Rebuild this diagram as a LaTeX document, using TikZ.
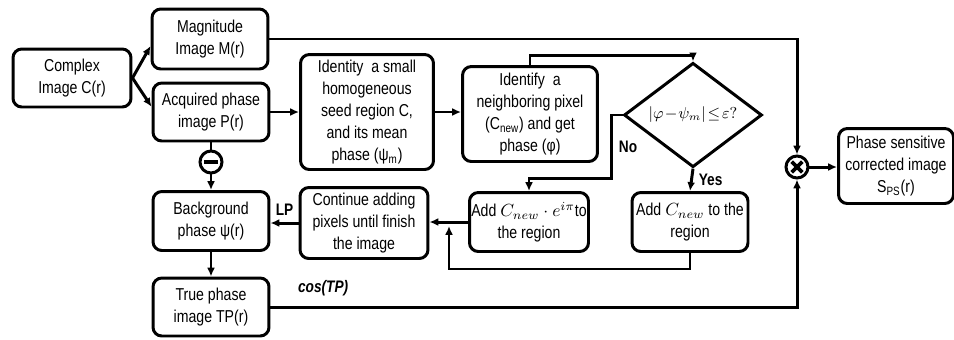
\documentclass[tikz,border=0pt]{standalone}
\usepackage{fontspec}
\setmainfont[FakeStretch=0.82]{Liberation Sans}
\usetikzlibrary{arrows.meta,shapes.geometric}

\tikzset{
  blk/.style={draw, line width=1.7pt, rounded corners=5pt, align=center, inner sep=1pt, font=\fontsize{9.8}{12.5}\selectfont},
  op/.style={draw, circle, line width=1.7pt, minimum size=0.44cm, inner sep=0pt},
  arr/.style={-{Latex[length=5pt,width=4.5pt]}, line width=1.7pt},
  lnk/.style={line width=1.7pt},
  lbl/.style={font=\fontsize{9.5}{11}\selectfont\bfseries}
}

\begin{document}
\begin{tikzpicture}[x=0.02cm, y=-0.02cm]
\useasboundingbox (0,0) rectangle (954,339);
% Left column
\node[blk, minimum width=2.36cm, minimum height=1.16cm] (cplx) at (72,78) {Complex\\Image C(r)};
\node[blk, minimum width=2.32cm, minimum height=1.2cm] (mag) at (210,39) {Magnitude\\Image M(r)};
\node[blk, minimum width=2.32cm, minimum height=1.16cm] (acq) at (211,112) {Acquired phase\\image P(r)};
\node[op] (minus) at (211,162) {};
\node[blk, minimum width=2.32cm, minimum height=1.18cm] (bg) at (211,221) {Background\\phase ψ(r)};
\node[blk, minimum width=2.32cm, minimum height=1.16cm] (tp) at (211,307) {True phase\\image TP(r)};
% Region growing
\node[blk, minimum width=2.66cm, minimum height=2.3cm] (seed) at (367,112) {Identity\ \ a small\\homogeneous\\seed region C,\\and its mean\\phase (ψ\textsubscript{m})};
\node[blk, minimum width=2.7cm, minimum height=1.9cm] (nbr) at (530,114) {Identify\ \ a\\neighboring pixel\\(C\textsubscript{new}) and get\\phase (φ)};
\node[draw, diamond, line width=1.7pt, inner sep=0pt, minimum width=2.76cm, minimum height=1.8cm, font=\fontsize{9}{11}\selectfont] (dec) at (693,115) {$|\varphi\!-\!\psi_m|\!\le\!\varepsilon?$};
\node[blk, minimum width=2.56cm, minimum height=1.42cm] (cont) at (364,223) {Continue adding\\pixels until finish\\the image};
\node[blk, minimum width=2.36cm, minimum height=1.18cm] (adde) at (529,222) {Add $C_{new}\cdot e^{i\pi}$to\\the region};
\node[blk, minimum width=2.32cm, minimum height=1.18cm] (addc) at (690,222) {Add $C_{new}$ to the\\region};
% Output
\node[op] (mul) at (797,167) {};
\node[blk, minimum width=2.3cm, minimum height=1.5cm] (ps) at (896,166) {Phase sensitive\\corrected image\\S\textsubscript{PS}(r)};
\coordinate (join) at (449,226);
% Operator marks
\draw[line width=2.5pt] ([xshift=-4pt]minus.center) -- ([xshift=4pt]minus.center);
\draw[line width=2.2pt] ([shift={(-3pt,-3pt)}]mul.center) -- ([shift={(3pt,3pt)}]mul.center);
\draw[line width=2.2pt] ([shift={(-3pt,3pt)}]mul.center) -- ([shift={(3pt,-3pt)}]mul.center);
% Arrows
\draw[arr] (cplx.east) -- ([yshift=-4pt]mag.west);
\draw[arr] (cplx.east) -- ([yshift=3pt]acq.west);
\draw[arr] (mag.east) -| (mul.north);
\draw[arr] (acq.east) -- (acq.east -| seed.west);
\draw[arr] (seed.east) -- (seed.east -| nbr.west);
\draw[arr] (nbr.north) -- ++(0,-10) -| (dec.north);
\draw[arr] (dec.west) -- ++(-11,0) -- node[lbl, right] {No} ++(0,63) -| (adde.north);
\draw[arr] (dec.south) -- node[lbl, right] {Yes} (addc.north);
\draw[arr] (addc.south) -- ++(0,16) -| (join);
\draw[arr] (adde.west) -- (adde.west -| cont.east);
\draw[arr] (cont.west) -- node[lbl, above] {LP} (cont.west -| bg.east);
\draw[lnk] (acq.south) -- (minus.north);
\draw[arr] (minus.south) -- (bg.north);
\draw[arr] (bg.south) -- (tp.north);
\draw[arr] (tp.east) -| node[pos=0.05, above, yshift=2pt, font=\fontsize{9.5}{11}\selectfont\bfseries\itshape] {cos(TP)} (mul.south);
\draw[arr] (mul.east) -- (mul.east -| ps.west);
\end{tikzpicture}
\end{document}
